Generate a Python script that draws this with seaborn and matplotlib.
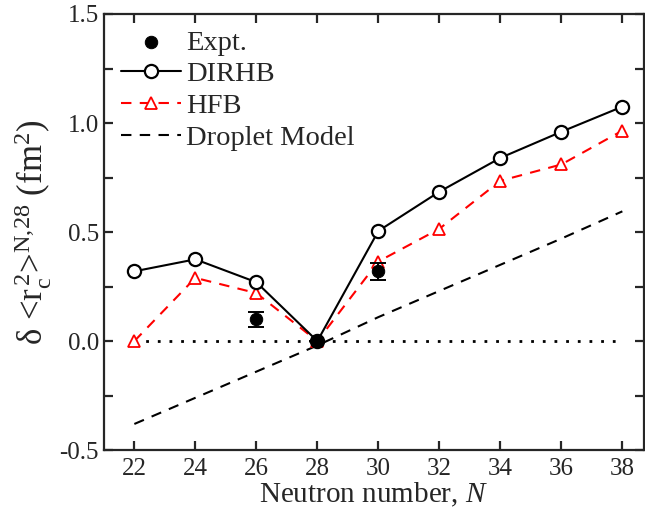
import matplotlib
matplotlib.use("Agg")
import matplotlib.pyplot as plt
import numpy as np
import pandas as pd
import seaborn as sns

# data
N = [22, 24, 26, 28, 30, 32, 34, 36, 38]
dirhb = [0.32, 0.375, 0.27, 0.0, 0.505, 0.685, 0.84, 0.96, 1.075]
hfb = [0.0, 0.29, 0.22, 0.0, 0.365, 0.515, 0.735, 0.81, 0.965]
droplet = [-0.38, -0.26, -0.14, -0.02, 0.11, 0.23, 0.35, 0.47, 0.595]
expt_N = [26, 28, 30]
expt = [0.10, 0.0, 0.32]
expt_err = [0.035, 0.0, 0.04]

sns.set_style("ticks")
plt.rcParams["font.family"] = ["Liberation Serif", "DejaVu Serif"]
plt.rcParams["mathtext.fontset"] = "custom"
plt.rcParams["mathtext.rm"] = "Liberation Serif"
plt.rcParams["mathtext.it"] = "Liberation Serif:italic"
plt.rcParams["axes.linewidth"] = 1.6

df = pd.DataFrame({"N": N, "DIRHB": dirhb, "HFB": hfb, "Droplet": droplet})

fig = plt.figure(figsize=(6.45, 5.18), dpi=100)
ax = fig.add_axes([0.161, 0.131, 0.837, 0.842])

ax.plot([22, 38], [0, 0], color="black", linestyle=(0, (1, 3.2)), lw=2.0, zorder=1)

sns.lineplot(data=df, x="N", y="Droplet", ax=ax, color="black", lw=1.5,
             linestyle=(0, (5, 4)), label="Droplet Model", zorder=2)
sns.lineplot(data=df, x="N", y="HFB", ax=ax, color="red", lw=1.5,
             linestyle=(0, (5, 4)), marker="^", markersize=9,
             markerfacecolor="white", markeredgecolor="red", markeredgewidth=1.3,
             label="HFB", zorder=3)
sns.lineplot(data=df, x="N", y="DIRHB", ax=ax, color="black", lw=1.5,
             marker="o", markersize=9.5, markerfacecolor="white",
             markeredgecolor="black", markeredgewidth=1.6, label="DIRHB", zorder=4)
ax.errorbar(expt_N, expt, yerr=expt_err, fmt="none", ecolor="black",
            elinewidth=1.4, capsize=5.5, capthick=1.4, zorder=5)
sns.scatterplot(x=expt_N, y=expt, ax=ax, color="black", s=80, edgecolor="black",
                label="Expt.", zorder=6)

ax.set_xlim(21.0, 38.7)
ax.set_ylim(-0.5, 1.5)
ax.set_xticks(N)
ax.set_yticks([-0.5, 0.0, 0.5, 1.0, 1.5])
ax.set_yticklabels(["-0.5", "0.0", "0.5", "1.0", "1.5"])
ax.set_yticks(np.arange(-0.25, 1.5, 0.5), minor=True)
ax.tick_params(axis="both", which="both", direction="in", top=True, right=True,
               labelsize=18, width=1.6, length=6.5)
ax.tick_params(axis="x", pad=6)
for s in ax.spines.values():
    s.set_visible(True)

ax.set_xlabel("Neutron number, $N$", fontsize=21, labelpad=0)
ax.set_ylabel(r"δ <r$_\mathrm{c}^{\,2}$>$^\mathrm{N{,}28}$ (fm$^2$)", fontsize=25, labelpad=4)

h, l = ax.get_legend_handles_labels()
order = [l.index(k) for k in ["Expt.", "DIRHB", "HFB", "Droplet Model"]]
ax.legend([h[i] for i in order], [l[i] for i in order], loc="upper left",
          frameon=False, fontsize=20.5, handlelength=2.1, handletextpad=0.2,
          labelspacing=0.2, borderaxespad=0.2, bbox_to_anchor=(0.0, 1.003))

fig.savefig("out.png", dpi=100)
